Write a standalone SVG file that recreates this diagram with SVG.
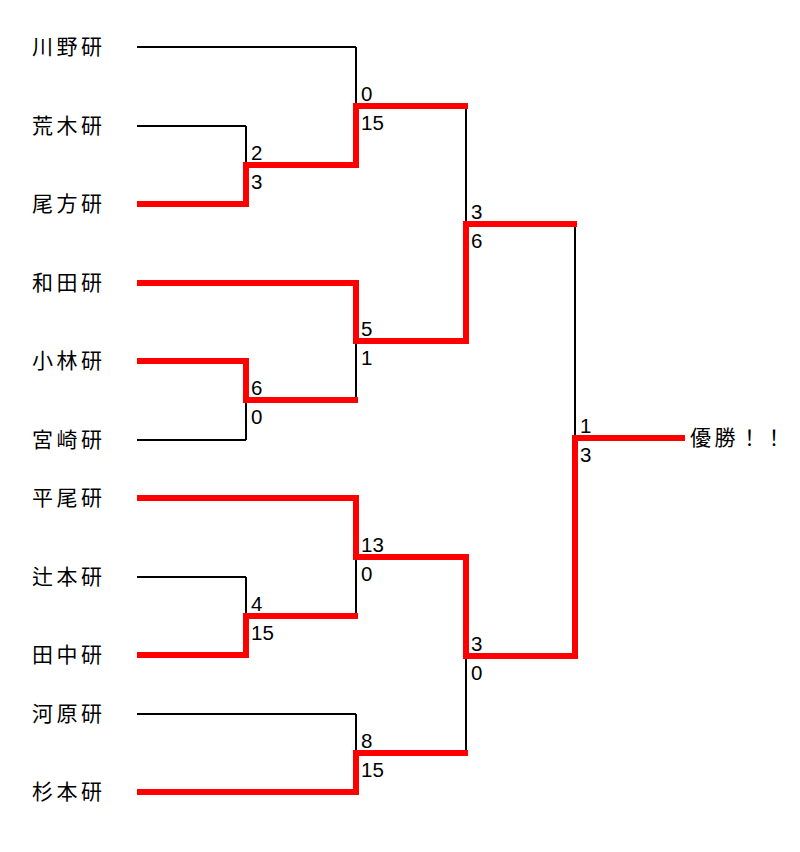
<svg xmlns="http://www.w3.org/2000/svg" width="800" height="852" viewBox="0 0 800 852">
<style>
.team{font-family:"Noto Sans CJK JP","Noto Sans CJK SC",sans-serif;font-size:21px;letter-spacing:3.5px;fill:#000;dominant-baseline:central}
.score{font-family:"Liberation Sans","DejaVu Sans",sans-serif;font-size:20.5px;fill:#000}
.blk{fill:none;stroke:#000;stroke-width:2}
.red{fill:none;stroke:#ff0000;stroke-width:6;stroke-linejoin:miter;stroke-linecap:butt}
</style>
<rect width="800" height="852" fill="#fff"/>
<g id="teams">
<g id="t1"><text class="team" x="32" y="45">川野研</text></g>
<g id="t2"><text class="team" x="32" y="124">荒木研</text></g>
<g id="t3"><text class="team" x="32" y="202">尾方研</text></g>
<g id="t4"><text class="team" x="32" y="281">和田研</text></g>
<g id="t5"><text class="team" x="32" y="359">小林研</text></g>
<g id="t6"><text class="team" x="32" y="438">宮崎研</text></g>
<g id="t7"><text class="team" x="32" y="496">平尾研</text></g>
<g id="t8"><text class="team" x="32" y="575">辻本研</text></g>
<g id="t9"><text class="team" x="32" y="653">田中研</text></g>
<g id="t10"><text class="team" x="32" y="712">河原研</text></g>
<g id="t11"><text class="team" x="32" y="790">杉本研</text></g>
<g id="champion"><text class="team" x="690" y="436">優勝！！</text></g>
</g>
<g id="connectors">
<path class="blk" d="M137,47H356M137,126H246M137,204H246M137,283H356M137,361H246M137,440H246M137,498H356M137,577H246M137,655H246M137,714H356M137,792H356"/>
<path class="blk" d="M246,126V204M246,361V440M246,577V655M356,47V165M356,283V400M356,498V616M356,714V792M466,106V341M466,557V753M575,224V656"/>
<path class="blk" d="M246,165H356M246,400H356M246,616H356M356,106H466M356,341H466M356,557H466M356,753H466M466,224H575M466,656H575M575,438H685"/>
<path class="red" d="M137,204H246V165H356V106H468"/>
<path class="red" d="M137,283H356V341H466V224H577"/>
<path class="red" d="M137,361H246V400H358"/>
<path class="red" d="M137,498H356V557H466V656H575V438H685"/>
<path class="red" d="M137,655H246V616H358"/>
<path class="red" d="M137,792H356V753H468"/>
</g>
<g id="scores">
<text class="score" x="251" y="160">2</text><text class="score" x="251" y="189">3</text>
<text class="score" x="251" y="395">6</text><text class="score" x="251" y="424">0</text>
<text class="score" x="251" y="611">4</text><text class="score" x="251" y="640">15</text>
<text class="score" x="361" y="101">0</text><text class="score" x="361" y="130">15</text>
<text class="score" x="361" y="336">5</text><text class="score" x="361" y="365">1</text>
<text class="score" x="361" y="552">13</text><text class="score" x="361" y="581">0</text>
<text class="score" x="361" y="748">8</text><text class="score" x="361" y="777">15</text>
<text class="score" x="471" y="219">3</text><text class="score" x="471" y="248">6</text>
<text class="score" x="471" y="651">3</text><text class="score" x="471" y="680">0</text>
<text class="score" x="580" y="433">1</text><text class="score" x="580" y="462">3</text>
</g>
</svg>
